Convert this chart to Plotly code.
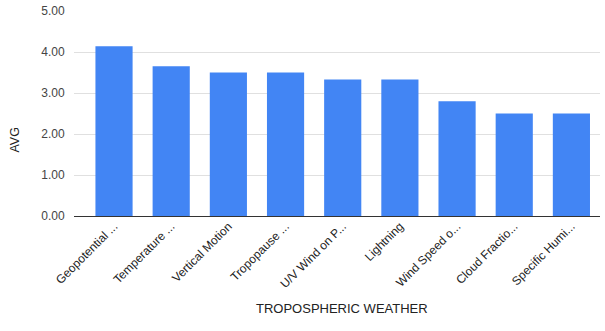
import plotly.graph_objects as go

categories = ["Geopotential ...", "Temperature ...", "Vertical Motion", "Tropopause ...",
              "U/V Wind on P...", "Lightning", "Wind Speed o...", "Cloud Fractio...",
              "Specific Humi..."]
avg_values = [4.14, 3.65, 3.5, 3.5, 3.33, 3.33, 2.8, 2.5, 2.5]
y_ticks = [0, 1, 2, 3, 4, 5]
y_tick_labels = ["0.00", "1.00", "2.00", "3.00", "4.00", "5.00"]

fig = go.Figure()
fig.add_trace(go.Bar(x=list(range(len(categories))), y=avg_values,
                     marker=dict(color="#4285F4", line=dict(width=0))))

fig.update_layout(
    width=605, height=331,
    margin=dict(l=74, r=5, t=11, b=115),
    paper_bgcolor="white", plot_bgcolor="white",
    font=dict(family="Liberation Sans, Arial", color="#222"),
    bargap=0.35,
    showlegend=False,
)
fig.update_xaxes(
    tickmode="array", tickvals=list(range(len(categories))), ticktext=categories,
    tickangle=-45, tickfont=dict(size=12, color="#222"),
    range=[-0.7, 8.5], showgrid=False, showline=False, ticks="",
    automargin=False,
)
fig.update_yaxes(
    tickmode="array", tickvals=y_ticks, ticktext=y_tick_labels,
    tickfont=dict(size=12, color="#444"), range=[0, 5], automargin=False,
    gridcolor="#e0e0e0", gridwidth=1, zeroline=True, zerolinecolor="#333", zerolinewidth=1,
    ticks="outside", ticklen=6, tickcolor="rgba(0,0,0,0)",
)
fig.add_annotation(text="AVG", xref="paper", yref="paper", x=-0.129, y=0.298,
                   textangle=-90, showarrow=False, font=dict(size=12.5, color="#222"))
fig.add_annotation(text="TROPOSPHERIC WEATHER", xref="paper", yref="paper", x=0.51, y=-0.4976,
                   showarrow=False, font=dict(size=13, color="#222"))
# drop the default 8px body margin so the figure sits at the window corner
fig.write_html("out.html", config={"displayModeBar": False},
               post_script="document.body.style.margin='0';")
